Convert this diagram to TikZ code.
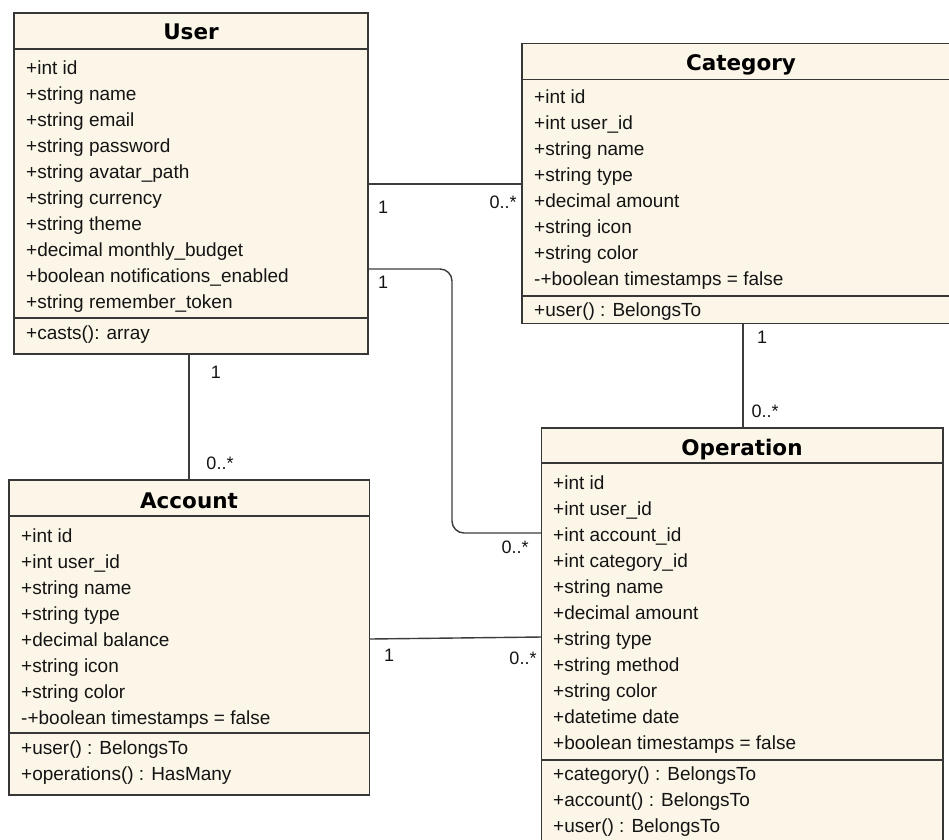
\documentclass[tikz,border=0pt]{standalone}
\usepackage{fontspec}
\setmainfont{Liberation Sans}
\newfontfamily\titlefont{DejaVu Sans}
\definecolor{boxfill}{RGB}{252,246,232}
\definecolor{boxline}{RGB}{55,55,55}
\definecolor{lnk}{RGB}{60,60,60}
\definecolor{txt}{RGB}{20,20,20}
\begin{document}
\begin{tikzpicture}[x=1pt,y=-1pt,
  box/.style={draw=boxline, fill=boxfill, line width=1.4pt, inner sep=0pt, outer sep=0pt, anchor=north west, rectangle},
  row/.style={anchor=base west, inner sep=0pt, font=\fontsize{19}{26}\selectfont, text=txt},
  ttl/.style={anchor=base, inner sep=0pt, font=\titlefont\bfseries\fontsize{21.5}{26}\selectfont, text=black},
  mult/.style={inner sep=0pt, font=\fontsize{18}{22}\selectfont, text=txt},
  conn/.style={draw=lnk, line width=1.4pt},
  sep/.style={draw=boxline, line width=1.4pt}]
\clip (0,0) rectangle (949,839);
\fill[white] (0,0) rectangle (949,839);

% ---------- User ----------
\node[box, minimum width=354pt, minimum height=341pt] (user) at (14,13) {};
\draw[sep] (user.west |- 0,49) -- (user.east |- 0,49);
\draw[sep] (user.west |- 0,318) -- (user.east |- 0,318);
\node[ttl] (userT) at (191,39) {User};
\foreach \t [count=\i from 0] in {+int id,+string name,+string email,+string password,+string avatar\_path,+string currency,+string theme,+decimal monthly\_budget,+boolean notifications\_enabled,+string remember\_token}
  \node[row] (ua\i) at (26,{74+26*\i}) {\t};
\node[row] (um0) at (26,339) {+casts(): array};

% ---------- Category ----------
\node[box, minimum width=438pt, minimum height=280pt] (category) at (522,43.5) {};
\draw[sep] (category.west |- 0,79.3) -- (category.east |- 0,79.3);
\draw[sep] (category.west |- 0,296) -- (category.east |- 0,296);
\node[ttl] (categoryT) at (741,70) {Category};
\foreach \t [count=\i from 0] in {+int id,+int user\_id,+string name,+string type,+decimal amount,+string icon,+string color,-+boolean timestamps = false}
  \node[row] (ca\i) at (534,{103+26*\i}) {\t};
\node[row] (cm0) at (534,316) {+user() : BelongsTo};

% ---------- Account ----------
\node[box, minimum width=360.5pt, minimum height=315pt] (account) at (9,480) {};
\draw[sep] (account.west |- 0,516) -- (account.east |- 0,516);
\draw[sep] (account.west |- 0,733) -- (account.east |- 0,733);
\node[ttl] (accountT) at (189,508) {Account};
\foreach \t [count=\i from 0] in {+int id,+int user\_id,+string name,+string type,+decimal balance,+string icon,+string color,-+boolean timestamps = false}
  \node[row] (aa\i) at (21,{542+26*\i}) {\t};
\node[row] (am0) at (21,754) {+user() : BelongsTo};
\node[row] (am1) at (21,780) {+operations() : HasMany};

% ---------- Operation ----------
\node[box, minimum width=401.5pt, minimum height=440pt] (operation) at (541.5,428) {};
\draw[sep] (operation.west |- 0,463) -- (operation.east |- 0,463);
\draw[sep] (operation.west |- 0,760) -- (operation.east |- 0,760);
\node[ttl] (operationT) at (742,455) {Operation};
\foreach \t [count=\i from 0] in {+int id,+int user\_id,+int account\_id,+int category\_id,+string name,+decimal amount,+string type,+string method,+string color,+datetime date,+boolean timestamps = false}
  \node[row] (oa\i) at (553,{489+26*\i}) {\t};
\node[row] (om0) at (553,780) {+category() : BelongsTo};
\node[row] (om1) at (553,806) {+account() : BelongsTo};
\node[row] (om2) at (553,832) {+user() : BelongsTo};

% ---------- Connectors ----------
\draw[conn] (user.east |- 0,184) -- (category.west |- 0,184);
\node[mult] (m1a) at (383,207) {1};
\node[mult] (m1b) at (503,202) {0..*};

\draw[conn, rounded corners=12pt] (user.east |- 0,269) -- (452,269) -- (452,533) -- (operation.west |- 0,533);
\node[mult] (m2a) at (383,282) {1};
\node[mult] (m2b) at (515,547) {0..*};

\draw[conn] (user.south -| 189,0) -- (account.north -| 189,0);
\node[mult] (m3a) at (216,372) {1};
\node[mult] (m3b) at (220,463) {0..*};

\draw[conn] (account.east |- 0,639) -- (operation.west |- 0,637);
\node[mult] (m4a) at (389,655) {1};
\node[mult] (m4b) at (523,658) {0..*};

\draw[conn] (category.south -| 743,0) -- (operation.north -| 743,0);
\node[mult] (m5a) at (762,337) {1};
\node[mult] (m5b) at (765,411) {0..*};
\end{tikzpicture}
\end{document}
